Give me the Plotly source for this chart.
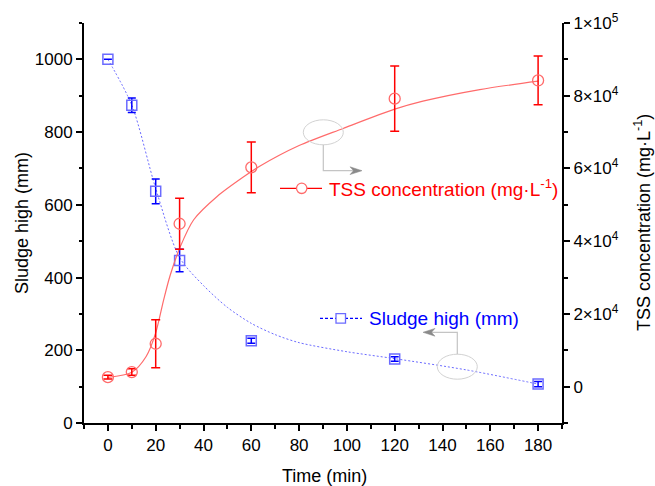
import plotly.graph_objects as go

# ---- data ----
time_min = [0, 10, 20, 30, 60, 120, 180]
sludge_high = [1000, 874, 637, 447, 226, 176, 107]
sludge_err = [0, 20, 34, 31, 7, 6, 7]
tss = [2600, 4000, 11800, 44800, 60300, 79200, 84200]
tss_err = [500, 900, 6600, 7000, 7000, 9000, 6700]

# fitted curves as drawn in the reference
sludge_fit_t = [0, 10, 20, 30, 40, 50, 60, 70, 80, 100, 120, 150, 180]
sludge_fit_y = [1000, 874, 645, 455, 378, 318, 274, 243, 221, 196, 177, 146, 107]
tss_fit_t = [0, 10, 16, 20, 23.3, 26, 30.3, 35.9, 45.7, 56.8, 63.5, 80, 98.4, 120, 131.8, 155.6, 180]
tss_fit_y = [2570, 3950, 8300, 14800, 23800, 30500, 38500, 45900, 52300, 57700, 60600,
             66300, 71000, 76300, 78500, 81700, 84000]

x_ticks = list(range(0, 181, 20))
y_ticks = list(range(0, 1001, 200))
y2_ticks = [0, 20000, 40000, 60000, 80000, 100000]
y2_ticktext = ["0", "2×10<sup>4</sup>", "4×10<sup>4</sup>", "6×10<sup>4</sup>",
               "8×10<sup>4</sup>", "1×10<sup>5</sup>"]

RED = "#ff0000"
RED_L = "#ff6b6b"
BLUE = "#0000ff"
BLUE_L = "#6b6bff"
FONT = "Liberation Sans, Arial, sans-serif"

W, H = 655, 486
ML, MR, MT, MB = 84, 93, 23, 63
PW, PH = W - ML - MR, H - MT - MB


def px(x):
    return (x - ML) / PW


def py(y):
    return (H - MB - y) / PH


fig = go.Figure()

fig.add_trace(go.Scatter(x=sludge_fit_t, y=sludge_fit_y, mode="lines",
                         line=dict(color=BLUE_L, width=1, dash="2px,2px", shape="spline",
                                   smoothing=0.8),
                         hoverinfo="skip", showlegend=False))
fig.add_trace(go.Scatter(x=tss_fit_t, y=tss_fit_y, mode="lines", yaxis="y2",
                         line=dict(color=RED_L, width=1.2, shape="spline", smoothing=0.8),
                         hoverinfo="skip", showlegend=False))
fig.add_trace(go.Scatter(x=time_min, y=sludge_high, mode="markers",
                         marker=dict(symbol="square-open", size=10, color=BLUE_L,
                                     line=dict(width=1.5, color=BLUE_L)),
                         error_y=dict(type="data", array=sludge_err, color=BLUE,
                                      thickness=1.5, width=4),
                         showlegend=False))
fig.add_trace(go.Scatter(x=time_min, y=tss, mode="markers", yaxis="y2",
                         marker=dict(symbol="circle-open", size=11, color=RED_L,
                                     line=dict(width=1.3, color=RED_L)),
                         error_y=dict(type="data", array=tss_err, color=RED,
                                      thickness=1.5, width=4.5),
                         showlegend=False))

shapes = []
# legend glyphs
shapes.append(dict(type="line", xref="paper", yref="paper", x0=px(280), x1=px(322),
                   y0=py(188.3), y1=py(188.3), line=dict(color=RED, width=1.3)))
shapes.append(dict(type="circle", xref="paper", yref="paper", x0=px(296.5), x1=px(306.9),
                   y0=py(183.1), y1=py(193.5), fillcolor="white",
                   line=dict(color=RED_L, width=1.3)))
shapes.append(dict(type="line", xref="paper", yref="paper", x0=px(320), x1=px(362),
                   y0=py(318.3), y1=py(318.3),
                   line=dict(color=BLUE, width=1.3, dash="3px,2px")))
shapes.append(dict(type="rect", xref="paper", yref="paper", x0=px(336), x1=px(345.5),
                   y0=py(313.6), y1=py(323.1), fillcolor="white",
                   line=dict(color=BLUE_L, width=1.3)))
# gray callouts
shapes.append(dict(type="circle", xref="paper", yref="paper", x0=px(303.3), x1=px(343.3),
                   y0=py(119.8), y1=py(144.8), line=dict(color="#d2d2d2", width=1)))
shapes.append(dict(type="path", xref="paper", yref="paper",
                   path=f"M {px(323.3)} {py(144.8)} L {px(323.3)} {py(170.7)} L {px(354)} {py(170.7)}",
                   line=dict(color="#c4c4c4", width=1.2)))
shapes.append(dict(type="path", xref="paper", yref="paper",
                   path=f"M {px(362)} {py(170.7)} L {px(350)} {py(166.8)} L {px(353.5)} {py(170.7)} L {px(350)} {py(174.6)} Z",
                   fillcolor="#8a8a8a", line=dict(color="#8a8a8a", width=0.5)))
shapes.append(dict(type="circle", xref="paper", yref="paper", x0=px(437.3), x1=px(477.3),
                   y0=py(354.2), y1=py(379.2), line=dict(color="#d2d2d2", width=1)))
shapes.append(dict(type="path", xref="paper", yref="paper",
                   path=f"M {px(457.3)} {py(354.2)} L {px(457.3)} {py(332.3)} L {px(431)} {py(332.3)}",
                   line=dict(color="#c4c4c4", width=1.2)))
shapes.append(dict(type="path", xref="paper", yref="paper",
                   path=f"M {px(423)} {py(332.3)} L {px(435)} {py(328.4)} L {px(431.5)} {py(332.3)} L {px(435)} {py(336.2)} Z",
                   fillcolor="#8a8a8a", line=dict(color="#8a8a8a", width=0.5)))

annotations = [
    dict(text="TSS concentration (mg·L<sup>-1</sup>)", xref="paper", yref="paper",
         x=px(327), y=py(188.3), xanchor="left", yanchor="middle", showarrow=False,
         font=dict(family=FONT, size=19, color=RED)),
    dict(text="Sludge high (mm)", xref="paper", yref="paper",
         x=px(367), y=py(318.3), xanchor="left", yanchor="middle", showarrow=False,
         font=dict(family=FONT, size=19, color=BLUE)),
    dict(text="Time (min)", xref="paper", yref="paper", x=px(324), y=py(476),
         xanchor="center", yanchor="middle", showarrow=False,
         font=dict(family=FONT, size=18, color="black")),
    dict(text="Sludge high (mm)", xref="paper", yref="paper", x=px(22), y=0.5,
         textangle=-90, xanchor="center", yanchor="middle", showarrow=False,
         font=dict(family=FONT, size=18, color="black")),
    dict(text="TSS concentration (mg·L<sup>-1</sup>)", xref="paper", yref="paper",
         x=px(642), y=0.5, textangle=-90, xanchor="center", yanchor="middle",
         showarrow=False, font=dict(family=FONT, size=18, color="black")),
]

axis_common = dict(showline=True, linecolor="black", linewidth=2, ticks="outside",
                   ticklen=6, tickwidth=1.5, tickcolor="black", showgrid=False,
                   zeroline=False, tickfont=dict(family=FONT, size=17, color="black"))

fig.update_layout(
    width=W, height=H, margin=dict(l=ML, r=MR, t=MT, b=MB),
    plot_bgcolor="white", paper_bgcolor="white", showlegend=False,
    xaxis=dict(range=[-10, 190], tickvals=x_ticks,
               minor=dict(dtick=10, tick0=0, ticks="outside", ticklen=3.5,
                          tickwidth=1.5, tickcolor="black"),
               **axis_common),
    yaxis=dict(range=[0, 1100], tickvals=y_ticks,
               minor=dict(dtick=100, tick0=0, ticks="outside", ticklen=3.5,
                          tickwidth=1.5, tickcolor="black"),
               **axis_common),
    yaxis2=dict(range=[-10000, 100000], overlaying="y", side="right", anchor="x",
                tickvals=y2_ticks, ticktext=y2_ticktext,
                minor=dict(dtick=10000, tick0=0, ticks="outside", ticklen=3.5,
                           tickwidth=1.5, tickcolor="black"),
                **axis_common),
    shapes=shapes, annotations=annotations,
)

fig.write_html("out.html", config={"displayModeBar": False},
               post_script="document.body.style.margin='0';document.body.style.overflow='hidden';")
